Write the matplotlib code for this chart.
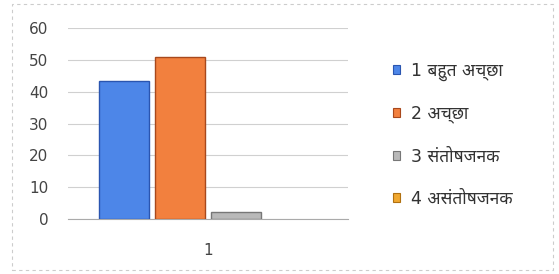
import matplotlib
matplotlib.use("Agg")
import matplotlib.pyplot as plt
from matplotlib.patches import Rectangle, Patch

categories = ["1"]
series_names = ["1 बहुत अच्छा", "2 अच्छा", "3 संतोषजनक", "4 असंतोषजनक"]
values = [43.5, 51.0, 2.2, 0.0]
colors = ["#4d86e8", "#f2803e", "#b9b9b9", "#f0a830"]
edges = ["#2a55b0", "#a8481c", "#777777", "#b07010"]
yticks = [0, 10, 20, 30, 40, 50, 60]

plt.rcParams['font.family'] = ['DejaVu Sans', 'Noto Sans', 'Lohit Devanagari', 'Noto Sans Devanagari', 'FreeSans']

fig = plt.figure(figsize=(5.59, 2.74), dpi=100)
ax = fig.add_axes([68/559, 1-219/274, 280/559, 191/274])

width = 0.182
step = 0.2
offsets = [(i - 1.5) * step for i in range(len(values))]
for i, (v, c, e, n) in enumerate(zip(values, colors, edges, series_names)):
    ax.bar(0 + offsets[i], v, width=width, color=c, edgecolor=e,
           linewidth=1.0 if v > 0 else 0, label=n, zorder=3)

ax.set_xlim(-0.5, 0.5)
ax.set_ylim(0, 60)
ax.set_yticks(yticks)
ax.set_xticks([0])
ax.set_xticklabels(categories)
ax.grid(axis='y', color='#d0d0d0', linewidth=0.8, zorder=0)
for s in ['top', 'right', 'left']:
    ax.spines[s].set_visible(False)
ax.spines['bottom'].set_color('#aaaaaa')
ax.tick_params(axis='y', length=0, labelsize=11, labelcolor='#444444', pad=14)
ax.tick_params(axis='x', length=0, labelsize=11, labelcolor='#444444', pad=17)

leg_handles = [Patch(facecolor=c, edgecolor=e, linewidth=0.8) for c, e in zip(colors, edges)]
leg = fig.legend(handles=leg_handles, labels=series_names, loc='upper left',
                 bbox_to_anchor=(377/559, 1-46/274), frameon=False,
                 fontsize=12.5, labelcolor='#333333', handlelength=0.45, handleheight=0.45,
                 handletextpad=0.6, labelspacing=1.38)

fig.patches.append(Rectangle((12/559, 4/274), 541/559, 266/274, transform=fig.transFigure,
                             fill=False, edgecolor='#cccccc', linewidth=0.8, linestyle=(0, (3, 3))))

fig.savefig("out.png", dpi=100)
